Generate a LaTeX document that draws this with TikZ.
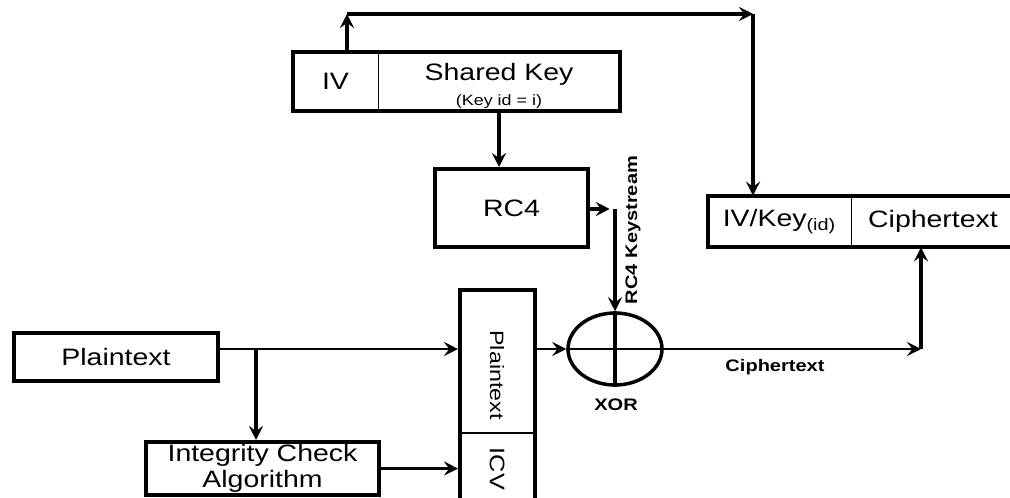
\documentclass[tikz,border=0pt]{standalone}
\usepackage{fontspec}
\setmainfont{Liberation Sans}[FakeStretch=1.2]
\usetikzlibrary{arrows.meta,shapes.geometric}

\begin{document}
\begin{tikzpicture}[
  x=0.02cm, y=-0.02cm,
  every node/.style={inner sep=0pt, font=\fontsize{13.5}{15}\selectfont},
  box/.style={draw, line width=2.3pt},
  sep/.style={line width=0.7pt},
  arr/.style={-{Stealth[length=8pt,width=8pt,inset=3pt]}, line width=1.8pt},
  flow/.style={arr, line width=1.3pt},
  tag/.style={font=\fontsize{9.5}{10}\selectfont\bfseries}
]
\useasboundingbox (0,0) rectangle (1010,497);

% key record
\node[minimum width=1.70cm, minimum height=1.18cm] (iv) at (335.5,81.5) {IV};
\node[minimum width=4.84cm, minimum height=1.18cm] (skey) at (499,81.5) {};
\node[anchor=base] (shk) at (499,80) {Shared Key};
\node[anchor=base, font=\fontsize{8.5}{10}\selectfont] (kid) at (499,105) {(Key id = i)};
\draw[box] (iv.north west) rectangle (skey.south east);
\draw[sep] (iv.north east) -- (iv.south east);

\node[box, minimum width=3.06cm, minimum height=1.56cm] (rc4) at (511.5,208) {RC4};

% output record
\node[minimum width=2.86cm, minimum height=1.02cm] (ivkey) at (779.5,221.5) {IV/Key\textsubscript{(id)}};
\node[minimum width=3.28cm, minimum height=1.02cm] (ctext) at (933,221.5) {Ciphertext};
\draw[box] (ivkey.north west) rectangle (ctext.south east);
\draw[sep] (ivkey.north east) -- (ivkey.south east);

% plaintext side
\node[box, minimum width=4.08cm, minimum height=0.96cm] (plain) at (116,357) {Plaintext};
\node[box, minimum width=4.66cm, minimum height=1.06cm, align=center] (ica) at (262.5,468.5) {Integrity Check\\Algorithm};

\node[box, minimum width=1.5cm, minimum height=4.6cm] (pkt) at (497.5,405) {};
\coordinate (pdiv) at (497.5,433);
\draw[sep] (pkt.west |- pdiv) -- (pkt.east |- pdiv);
\node[rotate=-90, font=\fontsize{11}{12}\selectfont] (ptl) at (497,375) {Plaintext};
\node[rotate=-90, font=\fontsize{12}{12}\selectfont] (icvl) at (497,469) {ICV};

\node[ellipse, draw, line width=2pt, minimum width=1.88cm, minimum height=1.44cm] (xor) at (615,349) {};
\draw[line width=2pt] (xor.north) -- (xor.south);
\draw[line width=1.5pt] (xor.west) -- (xor.east);
\node[tag] (xl) at (616,405) {XOR};

% connectors
\coordinate (ivup) at (347,14);
\coordinate (turn) at (753,14);
\draw[arr] (iv.north -| ivup) -- (ivup);
\draw[arr] (ivup) -- (turn);
\draw[arr] (turn) -- (turn |- ivkey.north);
\draw[arr] (skey.south) -- (skey.south |- rc4.north);

\coordinate (ks) at (615,209);
\draw[arr, shorten >=3pt] (rc4.east |- ks) -- (ks);
\draw[arr] (ks) -- (xor.north);
\node[tag, rotate=90] (ksl) at (633,230) {RC4 Keystream};

\coordinate (br) at (256,349);
\draw[flow] (plain.east |- xor) -- (pkt.west |- xor);
\draw[arr] (br) -- (br |- ica.north);
\draw[arr] (ica.east) -- (ica.east -| pkt.west);
\draw[flow] (pkt.east |- xor) -- (xor.west);

\coordinate (cout) at (921,349);
\draw[flow] (xor.east) -- (cout);
\draw[arr] (cout) -- (cout |- ctext.south);
\node[tag] (cl) at (775,367) {Ciphertext};
\end{tikzpicture}
\end{document}
